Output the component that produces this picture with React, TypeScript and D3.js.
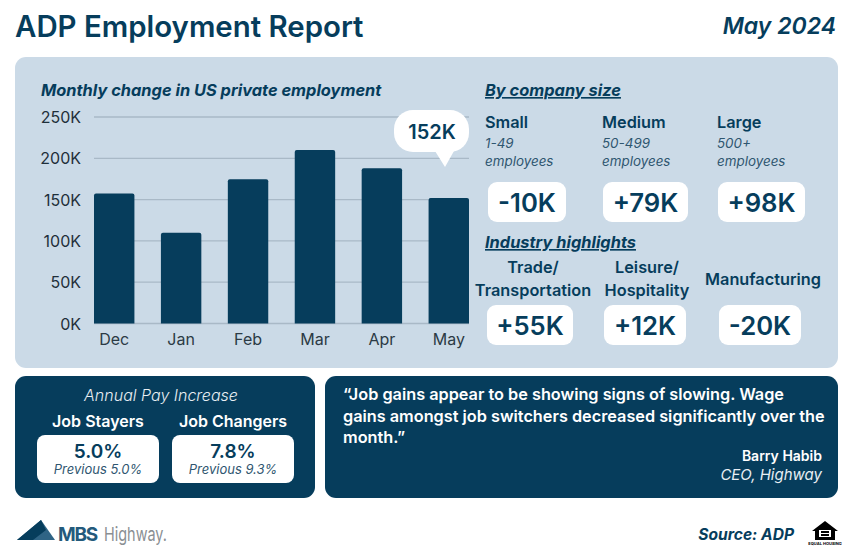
import React from "react";
import * as d3 from "d3";

const months = ["Dec", "Jan", "Feb", "Mar", "Apr", "May"];
const jobChanges = [157.5, 110, 174.5, 210, 188, 152];
const yTicks = [0, 50, 100, 150, 200, 250];
const sizeNames = ["Small", "Medium", "Large"];
const sizeRanges = ["1-49", "50-499", "500+"];
const sizeValues = ["-10K", "+79K", "+98K"];
const industryValues = ["+55K", "+12K", "-20K"];

const NAVY = "#063d5c";
const PANEL = "#cbdae7";
const FONT = "Inter, 'Noto Sans', sans-serif";

const x = d3.scaleBand<string>().domain(months).range([94, 469]).paddingInner(0.396).paddingOuter(0);
const y = d3.scaleLinear().domain([0, 250]).range([323.5, 117]);

function topRounded(x0: number, y0: number, w: number, h: number, r: number) {
  return `M${x0},${y0 + h}V${y0 + r}Q${x0},${y0} ${x0 + r},${y0}H${x0 + w - r}Q${x0 + w},${y0} ${x0 + w},${y0 + r}V${y0 + h}Z`;
}

function Chip({ x: cx, w, yTop, h, text }: { x: number; w: number; yTop: number; h: number; text: string }) {
  return (
    <g>
      <rect x={cx} y={yTop} width={w} height={h} rx={9} fill="#fff" />
      <text x={cx + w / 2} y={yTop + h / 2 + 9.5} textAnchor="middle" fontSize={25.7} fontWeight={600} fill={NAVY}>
        {text}
      </text>
    </g>
  );
}

export default function App() {
  const chipsTop = [
    { x: 488, w: 78 },
    { x: 603, w: 85 },
    { x: 718, w: 87 },
  ];
  const chipsBottom = [
    { x: 487, w: 86 },
    { x: 604, w: 82 },
    { x: 719, w: 82 },
  ];
  const sizeX = [485, 602, 717];
  return (
    <div style={{ position: "absolute", left: 0, top: 0, width: 850, height: 556 }}>
      <svg width={850} height={556} viewBox="0 0 850 556" fontFamily={FONT} style={{ display: "block" }}>
        <rect width={850} height={556} fill="#fff" />
        <text x={15} y={37} fontSize={29.4} fontWeight={600} fill={NAVY}>ADP Employment Report</text>
        <text x={836} y={34} textAnchor="end" fontSize={23} fontWeight={600} fontStyle="italic" fill={NAVY}>May 2024</text>

        <rect x={15} y={57} width={823} height={311} rx={11} fill={PANEL} />
        <text x={41} y={96} fontSize={16.4} fontWeight={700} fontStyle="italic" fill={NAVY}>Monthly change in US private employment</text>

        {yTicks.map((t) => (
          <g key={t}>
            <line x1={94} x2={469} y1={y(t)} y2={y(t)} stroke="#a9b9c7" strokeWidth={1.3} />
            <text x={81} y={y(t) + 6} textAnchor="end" fontSize={16} fill="#1f2f3a">{t}K</text>
          </g>
        ))}
        {months.map((m, i) => (
          <g key={m}>
            <path d={topRounded(x(m)!, y(jobChanges[i]), x.bandwidth(), y(0) - y(jobChanges[i]), 2)} fill={NAVY} />
            <text x={x(m)! + x.bandwidth() / 2} y={345} textAnchor="middle" fontSize={16} fill="#2b3a45">{m}</text>
          </g>
        ))}
        <rect x={394} y={110} width={75} height={42} rx={19} fill="#fff" />
        <path d={`M435,151 L445,167 L454,151 Z`} fill="#fff" />
        <text x={432} y={139} textAnchor="middle" fontSize={20} fontWeight={600} fill={NAVY}>152K</text>

        <text x={485} y={96} fontSize={16.4} fontWeight={700} fontStyle="italic" fill={NAVY} textDecoration="underline">By company size</text>
        {sizeNames.map((n, i) => (
          <g key={n}>
            <text x={sizeX[i]} y={128} fontSize={16.3} fontWeight={600} fill={NAVY}>{n}</text>
            <text x={sizeX[i]} y={148} fontSize={13.4} fontStyle="italic" fill="#2f5670">{sizeRanges[i]}</text>
            <text x={sizeX[i]} y={166} fontSize={13.4} fontStyle="italic" fill="#2f5670">employees</text>
            <Chip x={chipsTop[i].x} w={chipsTop[i].w} yTop={182} h={40} text={sizeValues[i]} />
          </g>
        ))}
        <text x={485} y={248} fontSize={16.4} fontWeight={700} fontStyle="italic" fill={NAVY} textDecoration="underline">Industry highlights</text>
        <g fontSize={16.3} fontWeight={600} fill={NAVY} textAnchor="middle">
          <text x={533} y={273}>Trade/</text>
          <text x={533} y={296}>Transportation</text>
          <text x={647} y={273}>Leisure/</text>
          <text x={647} y={296}>Hospitality</text>
          <text x={763} y={285}>Manufacturing</text>
        </g>
        {industryValues.map((v, i) => (
          <Chip key={v} x={chipsBottom[i].x} w={chipsBottom[i].w} yTop={305} h={40} text={v} />
        ))}

        <rect x={15} y={376} width={300} height={122} rx={11} fill={NAVY} />
        <text x={161} y={401} textAnchor="middle" fontSize={16} fontStyle="italic" fontWeight={300} fill="#e8eef3">Annual Pay Increase</text>
        <text x={98} y={427} textAnchor="middle" fontSize={16} fontWeight={600} fill="#fff">Job Stayers</text>
        <text x={233} y={427} textAnchor="middle" fontSize={16} fontWeight={600} fill="#fff">Job Changers</text>
        <rect x={37} y={435} width={122} height={48} rx={8} fill="#fff" />
        <rect x={172} y={435} width={122} height={48} rx={8} fill="#fff" />
        <text x={98} y={458} textAnchor="middle" fontSize={19} fontWeight={600} fill={NAVY}>5.0%</text>
        <text x={233} y={458} textAnchor="middle" fontSize={19} fontWeight={600} fill={NAVY}>7.8%</text>
        <text x={98} y={474} textAnchor="middle" fontSize={13} fontStyle="italic" fill="#2f5670">Previous 5.0%</text>
        <text x={233} y={474} textAnchor="middle" fontSize={13} fontStyle="italic" fill="#2f5670">Previous 9.3%</text>

        <rect x={325} y={376} width={513} height={122} rx={11} fill={NAVY} />
        <g fontSize={16.27} fontWeight={600} fill="#fff">
          <text x={343} y={400}>“Job gains appear to be showing signs of slowing. Wage</text>
          <text x={343} y={422}>gains amongst job switchers decreased significantly over the</text>
          <text x={343} y={443}>month.”</text>
        </g>
        <text x={822} y={461} textAnchor="end" fontSize={14} fontWeight={600} fill="#fff">Barry Habib</text>
        <text x={822} y={480} textAnchor="end" fontSize={15} fontStyle="italic" fill="#e8eef3">CEO, Highway</text>

        <path d="M17,540 L41,520 L55,540 Z" fill="#2f6485" />
        <path d="M17,540 L41,520 L46,530 L33,540 Z" fill={NAVY} />
        <text x={58} y={541} fontSize={19} fontWeight={700} letterSpacing={-1.2} fill="#245a7c">MBS</text>
        <text x={104} y={541} fontSize={19} textLength={63} lengthAdjust="spacingAndGlyphs" fill="#8a8f93">Highway.</text>

        <text x={794} y={540} textAnchor="end" fontSize={15.6} fontWeight={700} fontStyle="italic" fill={NAVY}>Source: ADP</text>
        <path d="M825,521 L812,531 H815 V540 H835 V531 H838 Z M819,530 H831 V537 H819 Z" fill="#000" fillRule="evenodd" />
        <rect x={821} y={531} width={8} height={2} fill="#000" />
        <rect x={821} y={534} width={8} height={2} fill="#000" />
        <text x={825} y={545} textAnchor="middle" fontSize={4} fontWeight={700} fill="#000">EQUAL HOUSING</text>
      </svg>
    </div>
  );
}
